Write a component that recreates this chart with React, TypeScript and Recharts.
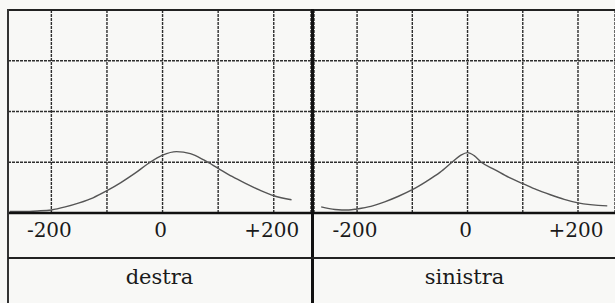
import React from 'react';
import { LineChart, Line, XAxis, YAxis, CartesianGrid, ReferenceLine } from 'recharts';

// offsets in units from the centre
const xDestra = [-275, -250, -225, -200, -175, -150, -125, -100, -75, -50, -25, 0, 25, 50, 75, 100, 125, 150, 175, 200, 232];
const yDestra = [0.03, 0.03, 0.04, 0.06, 0.12, 0.2, 0.3, 0.44, 0.6, 0.78, 0.98, 1.14, 1.21, 1.17, 1.04, 0.88, 0.72, 0.58, 0.45, 0.34, 0.26];

const xSinistra = [-265, -240, -215, -200, -175, -150, -125, -100, -75, -50, -25, -12, 0, 12, 25, 50, 75, 100, 125, 150, 175, 200, 253];
const ySinistra = [0.12, 0.07, 0.06, 0.08, 0.13, 0.22, 0.33, 0.46, 0.62, 0.8, 1.03, 1.14, 1.19, 1.13, 1.0, 0.85, 0.7, 0.58, 0.46, 0.36, 0.27, 0.2, 0.14];

const xTicks = [-200, -100, 0, 100, 200];
const yTicks = [0, 1, 2, 3, 4];
const tickLabels: Record<number, string> = { [-200]: '-200', 0: '0', 200: '+200' };

const panelLabels = ['destra', 'sinistra'];

const serif = '"DejaVu Serif", "Liberation Serif", serif';

const AxisTick = (props: any) => {
    const { x, y, payload } = props;
    const label = tickLabels[payload.value];
    if (!label) return null;
    return (
        <text x={x - 2} y={y + 24} textAnchor="middle" fontFamily={serif} fontSize={20} fill="#1a1a1a">
            {label}
        </text>
    );
};

interface PanelProps {
    xs: number[];
    ys: number[];
    width: number;
}

const Panel: React.FC<PanelProps> = ({ xs, ys, width }) => {
    const data = xs.map((x, i) => ({ x, y: ys[i] }));
    return (
        <LineChart width={width} height={249} data={data} margin={{ top: 2, right: 0, left: 0, bottom: 0 }}>
            <CartesianGrid stroke="#2e2e2e" strokeWidth={1.4} strokeDasharray="3 1" />
            <XAxis
                dataKey="x"
                type="number"
                domain={[-278, 267]}
                ticks={xTicks}
                height={44}
                tickSize={0}
                tickMargin={0}
                tick={<AxisTick />}
                axisLine={{ stroke: '#111', strokeWidth: 2.5 }}
                tickLine={false}
                allowDataOverflow
            />
            <YAxis hide domain={[0, 4]} ticks={yTicks} />
            <ReferenceLine y={4} stroke="#222" strokeWidth={2} />
            <Line
                type="monotone"
                dataKey="y"
                stroke="#555"
                strokeWidth={1.4}
                dot={false}
                isAnimationActive={false}
            />
        </LineChart>
    );
};

const App: React.FC = () => {
    const labelStyle: React.CSSProperties = {
        position: 'absolute',
        top: 265,
        textAlign: 'center',
        fontFamily: serif,
        fontSize: 21,
        color: '#1a1a1a',
    };
    return (
        <div style={{ position: 'absolute', left: 0, top: 0, width: 615, height: 303, background: '#f8f8f6', overflow: 'hidden' }}>
            <div style={{ position: 'absolute', left: 8, top: 8 }}>
                <Panel xs={xDestra} ys={yDestra} width={303} />
            </div>
            <div style={{ position: 'absolute', left: 314, top: 8 }}>
                <Panel xs={xSinistra} ys={ySinistra} width={301} />
            </div>
            {/* frame */}
            <div style={{ position: 'absolute', left: 7, top: 9, width: 2, height: 294, background: '#333' }} />
            <div style={{ position: 'absolute', left: 311, top: 9, width: 3, height: 294, background: '#111' }} />
            <div style={{ position: 'absolute', left: 8, top: 257, width: 607, height: 2, background: '#222' }} />
            <div style={{ ...labelStyle, left: 8, width: 303 }}>{panelLabels[0]}</div>
            <div style={{ ...labelStyle, left: 314, width: 301 }}>{panelLabels[1]}</div>
        </div>
    );
};

export default App;
